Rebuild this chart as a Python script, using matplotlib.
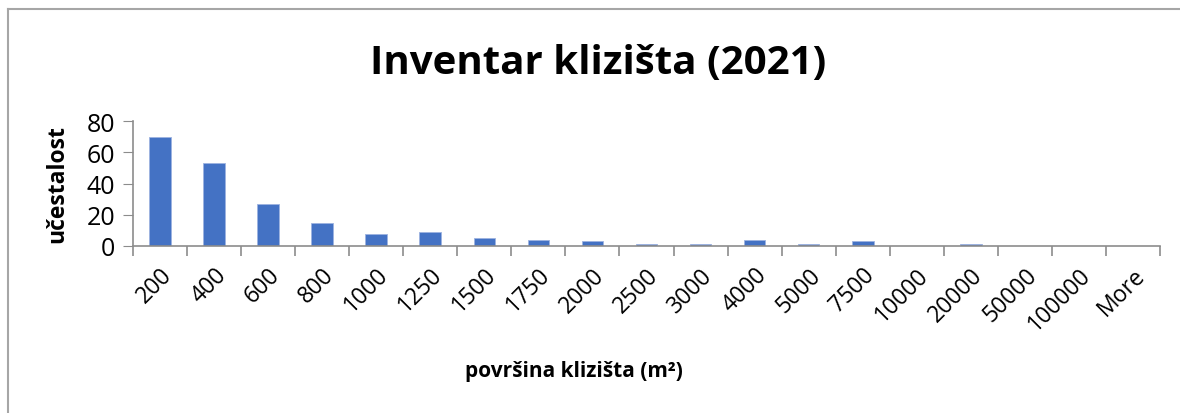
import numpy as np
import matplotlib.pyplot as plt
from matplotlib.lines import Line2D

CATEGORIES = ["200", "400", "600", "800", "1000", "1250", "1500", "1750", "2000",
              "2500", "3000", "4000", "5000", "7500", "10000", "20000", "50000",
              "100000", "More"]
COUNTS = [70, 53, 27, 15, 8, 9, 5, 4, 3, 1, 1, 4, 1, 3, 0, 1, 0, 0, 0]
Y_TICKS = [0, 20, 40, 60, 80]

BAR_COLOR = "#4472C4"
AXIS_COLOR = "#8c8c8c"

plt.rcParams['font.family'] = ['Open Sans', 'DejaVu Sans']


def main():
    fig = plt.figure(figsize=(11.8, 4.14), dpi=100)
    ax = fig.add_axes([133 / 1180, 1 - 247 / 414, (1160 - 133) / 1180, 125 / 414])

    x = np.arange(len(CATEGORIES))
    ax.bar(x, COUNTS, width=0.4, color=BAR_COLOR, edgecolor="#9db3e0", linewidth=0.6)

    ax.set_xlim(-0.5, len(CATEGORIES) - 0.5)
    ax.set_ylim(0, 80)
    ax.set_yticks(Y_TICKS)
    ax.tick_params(axis='y', labelsize=18, length=7, color=AXIS_COLOR, pad=6)

    # ticks sit on the category boundaries, labels under the bars
    ax.set_xticks(np.arange(len(CATEGORIES) + 1) - 0.5)
    ax.set_xticklabels([])
    ax.tick_params(axis='x', length=7, color=AXIS_COLOR, width=1.2)
    ax.set_xticks(x, minor=True)
    ax.set_xticklabels(CATEGORIES, minor=True, rotation=45, ha='right',
                       rotation_mode='anchor', fontsize=16.5)
    ax.tick_params(axis='x', which='minor', length=0, pad=12)

    for side in ['top', 'right']:
        ax.spines[side].set_visible(False)
    for side in ['left', 'bottom']:
        ax.spines[side].set_color(AXIS_COLOR)
        ax.spines[side].set_linewidth(1.2)

    ax.set_ylabel("učestalost", fontsize=16.5, fontweight='bold', labelpad=12)
    fig.text(0.486, 1 - 372 / 414, "površina klizišta (m²)", fontsize=15,
             fontweight='bold', ha='center', va='center')
    fig.text(0.507, 1 - 64 / 414, "Inventar klizišta (2021)", fontsize=29,
             fontweight='bold', ha='center', va='center')

    # chart frame
    fig.add_artist(Line2D([8 / 1180, 8 / 1180], [0, 1 - 10 / 414],
                          transform=fig.transFigure, color="#a6a6a6", lw=1.5))
    fig.add_artist(Line2D([8 / 1180, 1], [1 - 10 / 414, 1 - 10 / 414],
                          transform=fig.transFigure, color="#a6a6a6", lw=1.5))

    fig.savefig("out.png", dpi=100)


if __name__ == "__main__":
    main()
